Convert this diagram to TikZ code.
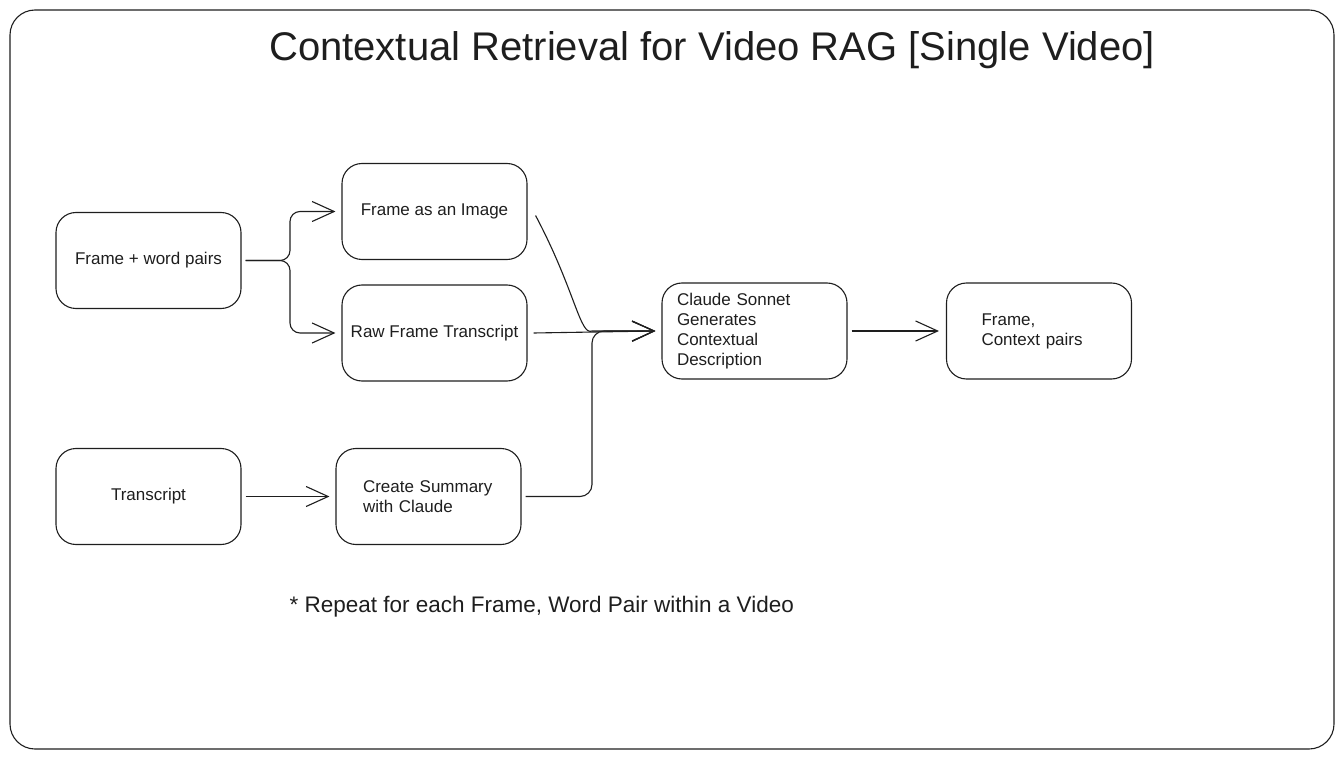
\documentclass[tikz,border=0pt]{standalone}
\usepackage{fontspec}
\setmainfont{Liberation Sans}
\usetikzlibrary{arrows.meta,calc}
\definecolor{ink}{HTML}{1E1E1E}
\tikzset{
  box/.style={draw=ink, line width=1.1pt, rounded corners=20pt, minimum width=185pt, minimum height=96pt, inner sep=0pt, font=\fontsize{17}{20}\selectfont, text=ink},
  arr/.style={draw=ink, line width=1.1pt, -{Straight Barb[length=22pt,width=20pt,line width=1.1pt]}},
}
\begin{document}
\begin{tikzpicture}[x=1pt,y=-1pt]
\useasboundingbox (0,0) rectangle (1344,759);
\draw[ink, line width=1.1pt, rounded corners=25pt] (10,10) rectangle (1334,749);

\node[font=\fontsize{40}{46}\selectfont, text=ink] (title) at (712,50) {Contextual Retrieval for Video RAG [Single Video]};

\node[box] (fw) at (148.5,260.5) {Frame + word pairs};
\node[box] (img) at (434.5,211.5) {Frame as an Image};
\node[box] (raw) at (434.5,333) {Raw Frame Transcript};
\node[box] (tr) at (148.5,496.5) {Transcript};
\node[box, align=left, text width=131pt, inner xsep=27pt] (sum) at (428.5,496.5) {Create Summary\\with Claude};
\node[box, align=left, text width=155pt, inner xsep=15pt] (claude) at (754.5,331) {Claude Sonnet\\Generates\\Contextual\\Description};
\node[box, align=left, text width=115pt, inner xsep=35pt] (out) at (1039,331) {Frame,\\Context pairs};

\node[font=\fontsize{22.5}{26}\selectfont, text=ink, anchor=west] (note) at (286,607) {* Repeat for each Frame, Word Pair within a Video};

\coordinate (split) at (290,260.5);
\coordinate (merge) at (592,331);

\draw[arr, rounded corners=10pt] ([xshift=4pt]fw.east) -- (split) |- ([xshift=-6pt]img.west);
\draw[arr, rounded corners=10pt] ([xshift=4pt]fw.east) -- (split) |- ([xshift=-6pt]raw.west);
\draw[arr] ([xshift=8pt,yshift=-4pt]img.east) .. controls (575,290) and (580,336) .. (merge) -- ([xshift=-6pt]claude.west);
\draw[arr] ([xshift=6pt]raw.east) -- ([xshift=-6pt]claude.west);
\draw[arr, rounded corners=12pt] ([xshift=4pt]sum.east) -| (merge) -- ([xshift=-6pt]claude.west);
\draw[arr] ([xshift=4pt]tr.east) -- ([xshift=-6pt]sum.west);
\draw[arr] ([xshift=4pt]claude.east) -- ([xshift=-7pt]out.west);
\end{tikzpicture}
\end{document}
